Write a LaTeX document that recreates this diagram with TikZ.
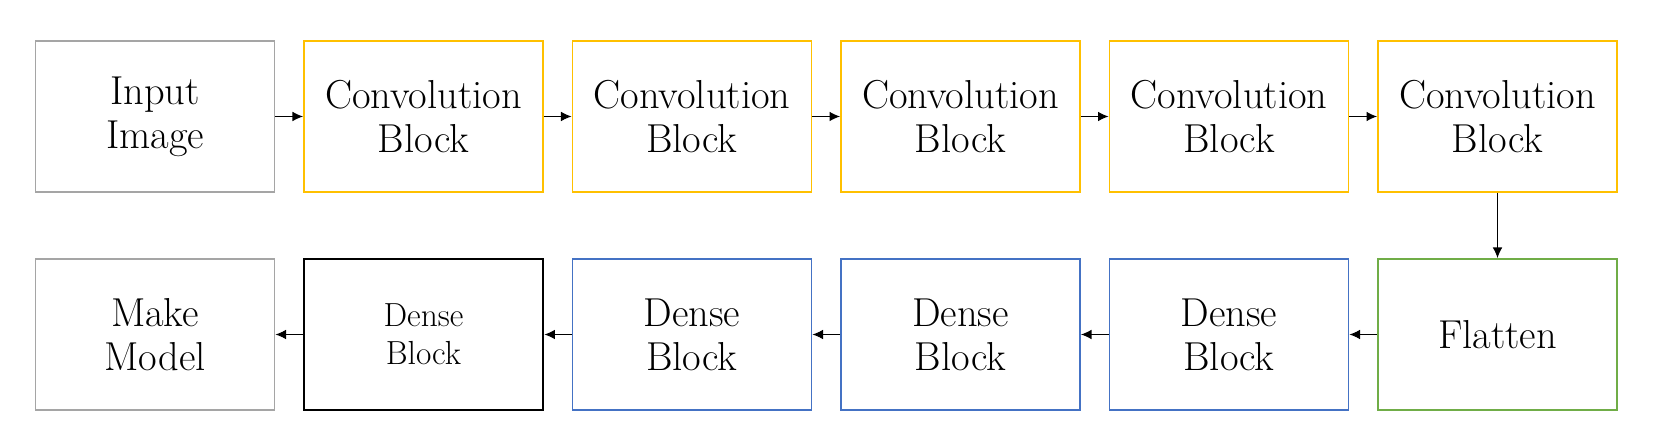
\documentclass[tikz,border=0pt]{standalone}
\usepackage{fontspec}
\usepackage{tikz}
\usetikzlibrary{positioning, arrows.meta}

\definecolor{greyline}{HTML}{A5A5A5}
\definecolor{convline}{HTML}{FFC000}
\definecolor{denseline}{HTML}{4472C4}
\definecolor{flatline}{HTML}{70AD47}

\begin{document}
\begin{tikzpicture}[->,>={Latex[length=6pt,width=5.5pt]},semithick,node distance=5.37cm]
  \tikzstyle{block}=[draw,line width=1.1pt,minimum width=4.78cm,minimum height=3.02cm,
                     inner sep=0pt,align=center,font=\fontsize{23}{25}\selectfont]
  \useasboundingbox (0,0) rectangle (33.2,-8.96);

  % first row
  \node[block, draw=greyline] (in) at (3.10,-2.33) {Input\\Image};
  \node[block, draw=convline] (c1) [right of=in] {Convolution\\Block};
  \node[block, draw=convline] (c2) [right of=c1] {Convolution\\Block};
  \node[block, draw=convline] (c3) [right of=c2] {Convolution\\Block};
  \node[block, draw=convline] (c4) [right of=c3] {Convolution\\Block};
  \node[block, draw=convline] (c5) [right of=c4] {Convolution\\Block};

  % second row
  \node[block, draw=flatline]  (fl) [below of=c5, node distance=4.36cm] {Flatten};
  \node[block, draw=denseline] (d1) [left of=fl] {Dense\\Block};
  \node[block, draw=denseline] (d2) [left of=d1] {Dense\\Block};
  \node[block, draw=denseline] (d3) [left of=d2] {Dense\\Block};
  \node[block, draw=black, line width=1.6pt, font=\fontsize{19}{21.5}\selectfont]
       (db) [left of=d3] {Dense\\Block};
  \node[block, draw=greyline] (mk) [left of=db] {Make\\Model};

  \path (in) edge (c1)
        (c1) edge (c2)
        (c2) edge (c3)
        (c3) edge (c4)
        (c4) edge (c5)
        (c5) edge (fl)
        (fl) edge (d1)
        (d1) edge (d2)
        (d2) edge (d3)
        (d3) edge (db)
        (db) edge (mk);
\end{tikzpicture}
\end{document}
